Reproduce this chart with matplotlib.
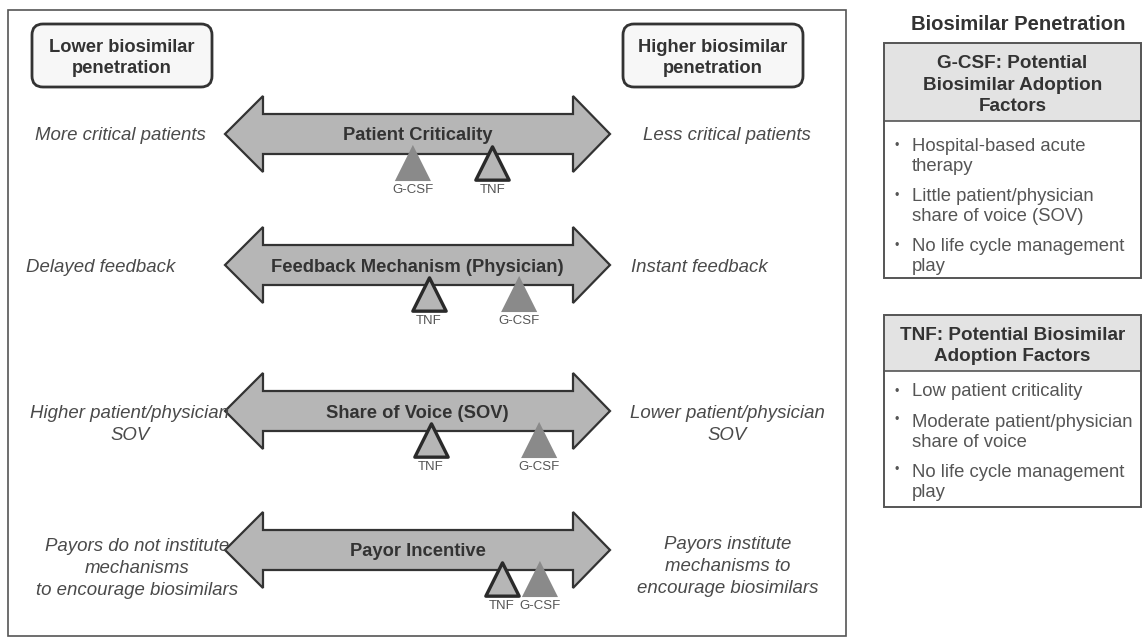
import matplotlib
matplotlib.use("Agg")
import matplotlib.pyplot as plt
from matplotlib.patches import Polygon, Rectangle, FancyBboxPatch

plt.rcParams['font.family'] = ['Liberation Sans', 'DejaVu Sans']

# ---------------- data ----------------
factors = ["Patient Criticality", "Feedback Mechanism (Physician)",
           "Share of Voice (SOV)", "Payor Incentive"]
left_labels = ["More critical patients", "Delayed feedback",
               "Higher patient/physician\nSOV",
               "Payors do not institute\nmechanisms\nto encourage biosimilars"]
right_labels = ["Less critical patients", "Instant feedback",
                "Lower patient/physician\nSOV",
                "Payors institute\nmechanisms to\nencourage biosimilars"]
# position along each arrow (0 = lower penetration end, 100 = higher penetration end)
gcsf_score = [48.8, 76.4, 81.6, 81.8]
tnf_score = [69.4, 53.0, 53.5, 71.9]
products = ["G-CSF", "TNF"]

end_labels = ["Lower biosimilar\npenetration", "Higher biosimilar\npenetration"]
panel_title = "Biosimilar Penetration"
box_headers = ["G-CSF: Potential\nBiosimilar Adoption\nFactors",
               "TNF: Potential Biosimilar\nAdoption Factors"]
box_bullets = [
    ["Hospital-based acute\ntherapy", "Little patient/physician\nshare of voice (SOV)",
     "No life cycle management\nplay"],
    ["Low patient criticality", "Moderate patient/physician\nshare of voice",
     "No life cycle management\nplay"],
]

# ---------------- layout ----------------
W, H = 1144, 642
fig = plt.figure(figsize=(W / 100, H / 100), dpi=100)
ax = fig.add_axes([0, 0, 1, 1])
ax.set_xlim(0, W)
ax.set_ylim(H, 0)
ax.axis('off')

dark = '#333333'
txt_gray = '#4a4a4a'
arrow_fill = '#b6b6b6'
gcsf_col = '#8a8a8a'

# main frame
ax.add_patch(Rectangle((8, 10), 838, 626, fill=False, ec='#555555', lw=1.2))

# end label boxes
for (x0, x1), lab in zip([(32, 212), (623, 803)], end_labels):
    ax.add_patch(FancyBboxPatch((x0, 24), x1 - x0, 63,
                                boxstyle="round,pad=0,rounding_size=11",
                                fc='#f7f7f7', ec=dark, lw=2.0))
    ax.text((x0 + x1) / 2, 54, lab, ha='center', va='center_baseline',
            fontsize=13.2, fontweight='bold', color=dark, linespacing=1.32)

row_y = [134, 265, 411, 550]
xl_tip, xl_base, xr_base, xr_tip = 225, 263, 573, 610
head_h, shaft_h = 38, 20
left_cx = [120, 101, 130, 137]
right_cx = [727, 699, 727, 728]
left_ty = [133, 265, 420, 564]
right_ty = [133, 265, 420, 562]

for i, y in enumerate(row_y):
    pts = [(xl_tip, y), (xl_base, y - head_h), (xl_base, y - shaft_h),
           (xr_base, y - shaft_h), (xr_base, y - head_h), (xr_tip, y),
           (xr_base, y + head_h), (xr_base, y + shaft_h), (xl_base, y + shaft_h),
           (xl_base, y + head_h)]
    ax.add_patch(Polygon(pts, closed=True, fc=arrow_fill, ec=dark, lw=1.6, zorder=2))
    ax.text((xl_tip + xr_tip) / 2, y, factors[i], ha='center', va='center_baseline',
            fontsize=13.2, fontweight='bold', color=dark, zorder=3)
    ax.text(left_cx[i], left_ty[i], left_labels[i], ha='center', va='center_baseline',
            fontsize=13.4, style='italic', color=txt_gray, linespacing=1.38)
    ax.text(right_cx[i], right_ty[i], right_labels[i], ha='center',
            va='center_baseline', fontsize=13.4, style='italic', color=txt_gray,
            linespacing=1.38)

# overlay axes spanning the arrow length for product positions
axm = fig.add_axes([xl_tip / W, 0, (xr_tip - xl_tip) / W, 1])
axm.set_xlim(0, 100)
axm.set_ylim(H, 0)
axm.axis('off')
axm.patch.set_alpha(0)

tri_y = [y + 29 for y in row_y]
lab_y = [y + 56 for y in row_y]
axm.scatter(gcsf_score, tri_y, marker='^', s=26 ** 2, c=gcsf_col, edgecolors='none', zorder=4)
axm.scatter(tnf_score, tri_y, marker='^', s=24 ** 2, c=arrow_fill, edgecolors='#2a2a2a',
            linewidths=2.4, zorder=4)
for i in range(len(row_y)):
    axm.text(gcsf_score[i], lab_y[i], products[0], ha='center', va='center',
             fontsize=9.5, color='#555555', zorder=5)
    axm.text(tnf_score[i], lab_y[i], products[1], ha='center', va='center',
             fontsize=9.5, color='#555555', zorder=5)

# right panel
ax.text(1018, 25, panel_title, ha='center', va='center', fontsize=14.6,
        fontweight='bold', color=dark)

bx0, bx1 = 884, 1141
boxes = [(43, 121, 278), (315, 371, 507)]
header_ty = [81, 342]
bullet_dot_y = [[144, 194, 244], [390, 419, 469]]
bullet_ty = [[153, 203, 253], [389, 429, 479]]
for k, (top, hb, bot) in enumerate(boxes):
    ax.add_patch(Rectangle((bx0, top), bx1 - bx0, hb - top, fc='#e3e3e3',
                           ec='none'))
    ax.add_patch(Rectangle((bx0, top), bx1 - bx0, bot - top, fill=False,
                           ec='#555555', lw=1.4))
    ax.plot([bx0, bx1], [hb, hb], color='#555555', lw=1.2)
    ax.text((bx0 + bx1) / 2, header_ty[k], box_headers[k], ha='center',
            va='center_baseline', fontsize=13.6, fontweight='bold', color=dark,
            linespacing=1.32)
    for j, b in enumerate(box_bullets[k]):
        ax.text(897, bullet_dot_y[k][j], "\u2022", ha='center', va='center_baseline',
                fontsize=9, color='#555555')
        ax.text(912, bullet_ty[k][j], b, ha='left', va='center_baseline',
                fontsize=13.3, color='#555555', linespacing=1.25)

fig.savefig("out.png", dpi=100)
